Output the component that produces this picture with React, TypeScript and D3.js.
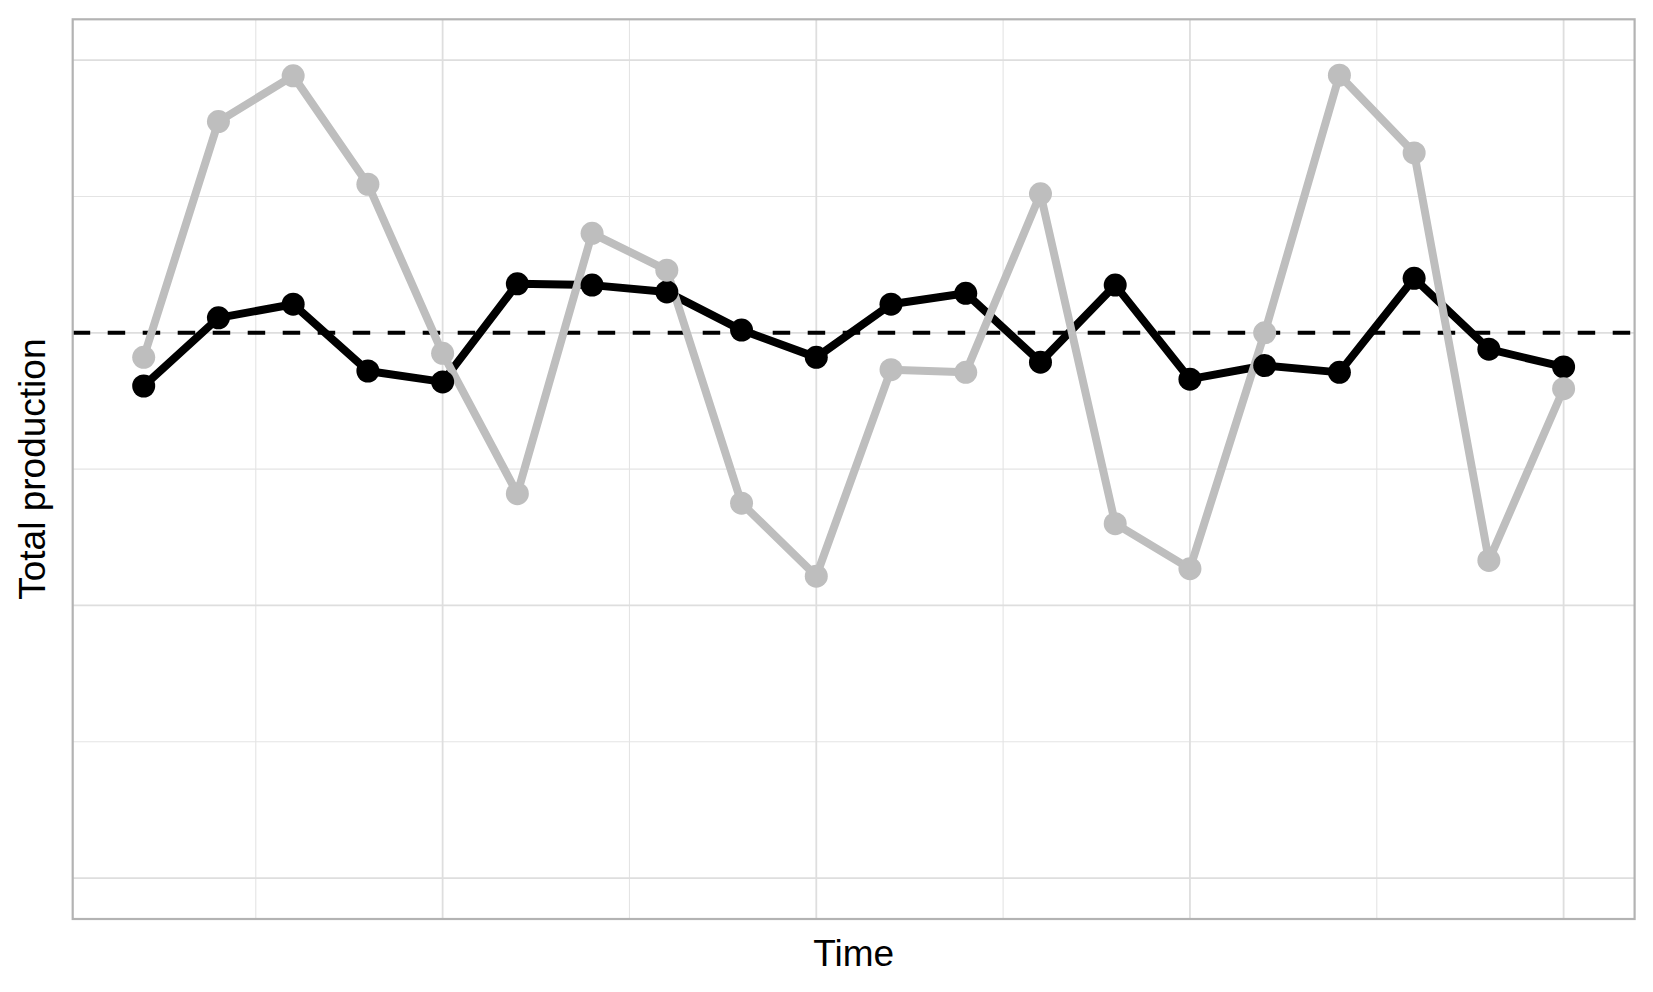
import React, { FC, useMemo } from "react";
import * as d3 from "d3";

// time index and the two production series
const time = [1, 2, 3, 4, 5, 6, 7, 8, 9, 10, 11, 12, 13, 14, 15, 16, 17, 18, 19, 20];
const totalProduction = [
    96.1, 101.1, 102.1, 97.2, 96.4, 103.6, 103.5, 103.0, 100.2, 98.2,
    102.1, 102.9, 97.85, 103.5, 96.6, 97.6, 97.1, 104.0, 98.8, 97.5,
];
const singleProduction = [
    98.2, 115.5, 118.85, 110.9, 98.5, 88.2, 107.3, 104.6, 87.5, 82.15,
    97.3, 97.1, 110.2, 86.0, 82.7, 100.0, 118.9, 113.2, 83.3, 95.9,
];
const meanLevel = 100;
const yLimits = [60, 120];
const yMajor = [60, 80, 100, 120];
const yMinor = [70, 90, 110];
const xMajor = [5, 10, 15, 20];
const xMinor = [2.5, 7.5, 12.5, 17.5];

const width = 1653;
const height = 992;
const panel = { left: 72.7, right: 1634.6, top: 19.3, bottom: 919 };
const font = "'Liberation Sans', Arial, Helvetica, sans-serif";

const App: FC = () => {
    const x = useMemo(() => {
        const [lo, hi] = d3.extent(time) as [number, number];
        const pad = (hi - lo) * 0.05;
        return d3.scaleLinear([lo - pad, hi + pad], [panel.left, panel.right]);
    }, []);

    const y = useMemo(() => {
        const pad = (yLimits[1] - yLimits[0]) * 0.05;
        return d3.scaleLinear([yLimits[0] - pad, yLimits[1] + pad], [panel.bottom, panel.top]);
    }, []);

    const line = d3
        .line<number>()
        .x((_, i) => x(time[i]))
        .y((d) => y(d));

    const series = [
        { key: "total", values: totalProduction, color: "#000000" },
        { key: "single", values: singleProduction, color: "#bebebe" },
    ];

    return (
        <svg
            width={width}
            height={height}
            style={{ position: "absolute", top: 0, left: 0, background: "#fff" }}
        >
            {/* grid */}
            {yMinor.map((t) => (
                <line key={`ym${t}`} x1={panel.left} x2={panel.right} y1={y(t)} y2={y(t)} stroke="#e4e4e4" strokeWidth={1.1} />
            ))}
            {xMinor.map((t) => (
                <line key={`xm${t}`} y1={panel.top} y2={panel.bottom} x1={x(t)} x2={x(t)} stroke="#e4e4e4" strokeWidth={1.1} />
            ))}
            {yMajor.map((t) => (
                <line key={`yM${t}`} x1={panel.left} x2={panel.right} y1={y(t)} y2={y(t)} stroke="#dedede" strokeWidth={1.8} />
            ))}
            {xMajor.map((t) => (
                <line key={`xM${t}`} y1={panel.top} y2={panel.bottom} x1={x(t)} x2={x(t)} stroke="#dedede" strokeWidth={1.8} />
            ))}

            {/* mean */}
            <line
                x1={panel.left}
                x2={panel.right}
                y1={y(meanLevel)}
                y2={y(meanLevel)}
                stroke="#000"
                strokeWidth={4}
                strokeDasharray="17.5 17.5"
            />

            {/* lines */}
            {series.map((s) => (
                <path key={`l${s.key}`} d={line(s.values) as string} fill="none" stroke={s.color} strokeWidth={8} strokeLinejoin="round" />
            ))}
            {/* points */}
            {series.map((s) => (
                <g key={`p${s.key}`}>
                    {s.values.map((v, i) => (
                        <circle key={i} cx={x(time[i])} cy={y(v)} r={11.5} fill={s.color} />
                    ))}
                </g>
            ))}

            {/* border */}
            <rect
                x={panel.left}
                y={panel.top}
                width={panel.right - panel.left}
                height={panel.bottom - panel.top}
                fill="none"
                stroke="#b3b3b3"
                strokeWidth={2.2}
            />

            {/* axis titles */}
            <text
                x={(panel.left + panel.right) / 2}
                y={965.7}
                textAnchor="middle"
                fontFamily={font}
                fontSize={37}
                fill="#000"
            >
                Time
            </text>
            <text
                transform={`translate(45,${(panel.top + panel.bottom) / 2}) rotate(-90)`}
                textAnchor="middle"
                fontFamily={font}
                fontSize={37}
                fill="#000"
            >
                Total production
            </text>
        </svg>
    );
};

export default App;
